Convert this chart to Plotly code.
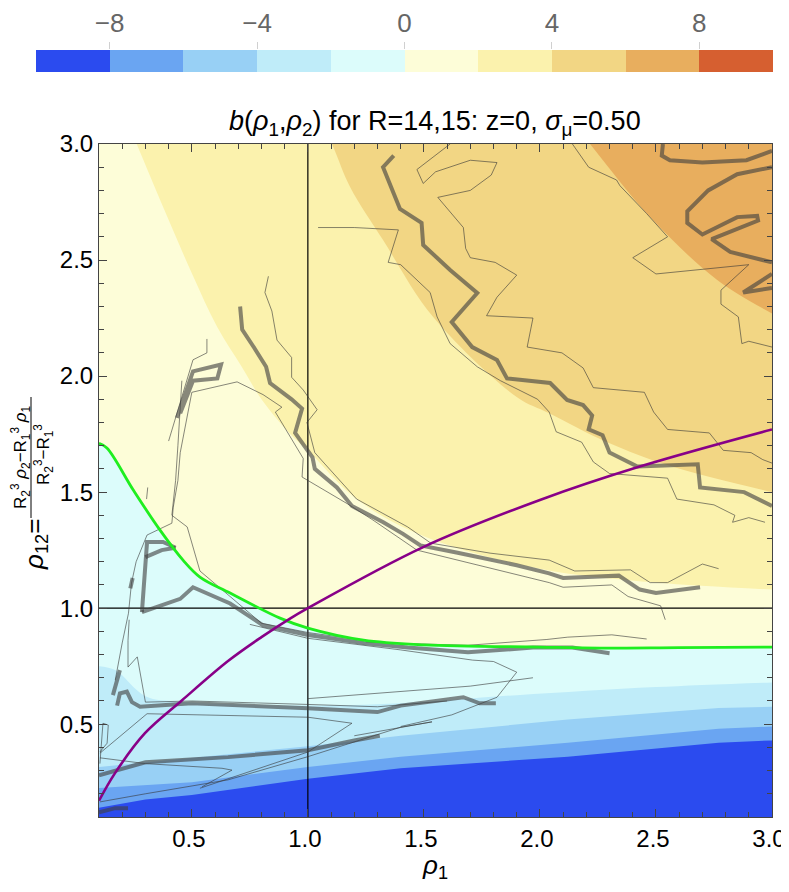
import plotly.graph_objects as go

# discrete colour levels (-10..10, step 2)
level_centers = [-9, -7, -5, -3, -1, 1, 3, 5, 7, 9]
level_colors = ["#2b4bef", "#6aa5f2", "#98d0f5", "#bfecf9", "#dcfcfb",
                "#fdfdd8", "#fbf2ad", "#f2d684", "#e8ae5e", "#d65f30"]
legend_ticks = [-8, -4, 0, 4, 8]
legend_text = ["\u22128", "\u22124", "0", "4", "8"]

# boundaries of the filled bands, rho12 as a function of rho1
b6_x = [0.1, 1.9, 2.216, 2.475, 2.764, 3.0]
b6_y = [6.0, 3.4, 3.0, 2.685, 2.414, 2.27]
b4_x = [0.1, 0.9, 1.104, 1.182, 1.324, 1.54, 1.90, 2.04, 2.29, 2.57, 3.0]
b4_y = [5.0, 3.45, 3.0, 2.815, 2.586, 2.254, 1.91, 1.84, 1.715, 1.61, 1.50]
b2_x = [0.1, 0.2, 0.2625, 0.38, 0.50, 0.61, 0.715, 0.80, 0.92, 1.0, 1.21, 1.5, 2.0, 2.5, 3.0]
b2_y = [3.4, 3.15, 3.0, 2.72, 2.443, 2.21, 2.04, 1.90, 1.755, 1.68, 1.47, 1.31, 1.17, 1.11, 1.08]
b0_x = [0.1, 0.134, 0.247, 0.363, 0.462, 0.535, 0.665, 0.88, 1.0, 1.24, 1.5, 2.0, 2.26, 2.6, 3.0]
b0_y = [1.71, 1.69, 1.51, 1.336, 1.207, 1.134, 1.065, 0.957, 0.914, 0.862, 0.842, 0.832, 0.828, 0.83, 0.832]
bm2_x = [0.1, 0.17, 0.30, 0.44, 0.7, 1.0, 1.4, 1.9, 2.5, 3.0]
bm2_y = [0.75, 0.733, 0.62, 0.597, 0.585, 0.58, 0.59, 0.625, 0.66, 0.68]
bm4_x = [0.1, 0.5, 1.0, 1.4, 2.12, 2.77, 3.0]
bm4_y = [0.315, 0.355, 0.405, 0.45, 0.52, 0.57, 0.575]
bm6_x = [0.1, 0.5, 1.0, 1.4, 2.12, 2.77, 3.0]
bm6_y = [0.225, 0.25, 0.315, 0.36, 0.42, 0.48, 0.49]
bm8_x = [0.1, 0.3, 0.5, 1.0, 1.4, 2.12, 2.77, 3.0]
bm8_y = [0.14, 0.175, 0.195, 0.265, 0.31, 0.36, 0.42, 0.43]

# purple reference curve
purple_x = [0.1, 0.169, 0.298, 0.458, 0.656, 0.80, 0.923, 1.0, 1.497, 2.0, 2.43, 3.0]
purple_y = [0.17, 0.289, 0.461, 0.603, 0.772, 0.875, 0.955, 1.0, 1.263, 1.466, 1.61, 1.77]

ref_rho = 1.0

# thick gray contour lines
thick_a_x = [0.708, 0.717, 0.77, 0.82, 0.837, 0.93, 0.975, 0.945, 1.02, 1.03, 1.125, 1.19, 1.325, 1.41, 1.485, 1.64, 1.90, 2.04, 2.10, 2.34, 2.43, 2.50, 2.69]
thick_a_y = [2.30, 2.20, 2.12, 2.04, 1.97, 1.90, 1.86, 1.755, 1.65, 1.60, 1.52, 1.44, 1.37, 1.32, 1.27, 1.24, 1.185, 1.15, 1.13, 1.14, 1.08, 1.065, 1.09]
thick_b_x = [1.37, 1.324, 1.397, 1.49, 1.497, 1.613, 1.73, 1.62, 1.708, 1.815, 1.858, 2.044, 2.117, 2.186, 2.225, 2.21, 2.27, 2.30, 2.42, 2.68, 2.69, 2.88, 3.0]
thick_b_y = [2.95, 2.90, 2.72, 2.66, 2.565, 2.457, 2.358, 2.233, 2.125, 2.069, 1.99, 1.97, 1.897, 1.875, 1.83, 1.77, 1.745, 1.67, 1.61, 1.62, 1.52, 1.50, 1.44]
thick_c_x = [2.53, 2.525, 2.56, 2.70, 2.89, 3.0]
thick_c_y = [3.0, 2.95, 2.93, 2.92, 2.93, 2.97]
thick_d_x = [3.0, 2.85, 2.725, 2.635, 2.635, 2.70, 2.85, 2.936, 2.94, 2.74, 2.82, 3.0]
thick_d_y = [2.90, 2.87, 2.80, 2.71, 2.66, 2.61, 2.685, 2.69, 2.67, 2.59, 2.535, 2.49]
thick_e_x = [3.0, 2.876, 3.0]
thick_e_y = [2.44, 2.36, 2.38]
thick_f_x = [0.436, 0.47, 0.505, 0.626, 0.61, 0.505, 0.45]
thick_f_y = [1.82, 1.92, 2.02, 2.05, 1.99, 1.98, 1.84]
thick_g_x = [0.285, 0.295, 0.307, 0.376, 0.43]
thick_g_y = [0.983, 1.13, 1.285, 1.285, 1.26]
thick_h_x = [0.30, 0.37, 0.43]
thick_h_y = [1.22, 1.25, 1.26]
thick_i_x = [0.235, 0.245]
thick_i_y = [1.085, 1.13]
thick_j_x = [0.285, 0.45, 0.505, 0.665, 0.807, 1.0, 1.24, 1.43, 1.69, 1.97, 2.14, 2.30]
thick_j_y = [0.983, 1.04, 1.09, 1.02, 0.926, 0.884, 0.85, 0.83, 0.81, 0.83, 0.83, 0.806]
thick_k_x = [0.16, 0.19]
thick_k_y = [0.625, 0.733]
thick_l_x = [0.178, 0.19, 0.22, 0.242, 0.277, 0.50, 1.0, 1.20, 1.30, 1.40, 1.527, 1.67, 1.74, 1.81]
thick_l_y = [0.58, 0.633, 0.64, 0.595, 0.575, 0.59, 0.569, 0.56, 0.552, 0.58, 0.595, 0.616, 0.59, 0.59]
thick_m_x = [0.1, 0.30, 0.656, 1.0, 1.20, 1.31]
thick_m_y = [0.28, 0.336, 0.358, 0.388, 0.43, 0.45]
thick_n_x = [0.1, 0.17, 0.225]
thick_n_y = [0.12, 0.138, 0.138]

# thin gray contour lines
thin_a_x = [0.83, 0.815, 0.845, 0.867, 0.93, 0.93, 0.98, 1.04, 0.996, 1.03, 1.07, 1.21, 1.32, 1.43, 1.53, 1.785, 2.04, 2.15, 2.39, 2.475, 2.55, 2.70, 2.77]
thin_a_y = [2.43, 2.36, 2.28, 2.155, 2.08, 1.995, 1.94, 1.855, 1.80, 1.67, 1.625, 1.47, 1.41, 1.35, 1.28, 1.237, 1.207, 1.16, 1.165, 1.11, 1.11, 1.19, 1.17]
thin_b_x = [0.50, 0.695, 0.807, 0.888, 0.86, 0.93, 0.98, 0.975, 1.17, 1.28, 1.47, 2.04, 2.10, 2.31, 2.38, 2.52, 2.54]
thin_b_y = [1.93, 1.975, 1.92, 1.866, 1.845, 1.73, 1.645, 1.565, 1.45, 1.38, 1.25, 1.11, 1.09, 1.10, 1.05, 1.01, 0.95]
thin_c_x = [1.044, 1.20, 1.39, 1.346, 1.40, 1.527, 1.557, 1.613, 1.73, 1.83, 1.99, 2.04, 2.07, 2.18, 2.23, 2.30, 2.55, 2.59, 2.75, 2.84, 2.83, 2.90, 2.97]
thin_c_y = [2.64, 2.64, 2.63, 2.49, 2.48, 2.36, 2.255, 2.14, 2.04, 1.98, 1.90, 1.845, 1.76, 1.715, 1.63, 1.58, 1.56, 1.47, 1.445, 1.40, 1.37, 1.39, 1.37]
thin_d_x = [1.613, 1.47, 1.497, 1.55, 1.70, 1.815, 1.79, 1.70, 1.56, 1.67, 1.68, 1.70, 1.807, 1.90, 1.815, 1.77, 1.97, 1.945, 2.095, 2.186, 2.23, 2.45, 2.49, 2.55, 2.73, 2.79, 2.91, 2.96, 3.0]
thin_d_y = [3.0, 2.89, 2.83, 2.88, 2.93, 2.92, 2.866, 2.80, 2.77, 2.64, 2.55, 2.51, 2.49, 2.435, 2.34, 2.26, 2.25, 2.125, 2.10, 2.035, 1.95, 1.93, 1.845, 1.77, 1.755, 1.68, 1.67, 1.64, 1.625]
thin_e_x = [2.14, 2.21, 2.33, 2.345, 2.46, 2.55, 2.40, 2.50, 2.90, 2.78, 2.78, 2.855, 2.87, 2.90, 3.0]
thin_e_y = [3.0, 2.90, 2.845, 2.82, 2.70, 2.60, 2.51, 2.44, 2.48, 2.37, 2.31, 2.255, 2.14, 2.15, 2.125]
thin_f_x = [0.565, 0.565, 0.505, 0.40]
thin_f_y = [2.16, 2.10, 2.07, 1.72]
thin_g_x = [0.50, 0.485, 0.47, 0.45, 0.44, 0.42, 0.414, 0.307, 0.26, 0.24, 0.227, 0.20, 0.17]
thin_g_y = [1.93, 1.853, 1.78, 1.67, 1.55, 1.435, 1.366, 1.315, 1.20, 1.108, 0.978, 0.85, 0.69]
thin_h_x = [0.457, 0.45, 0.44, 0.43, 0.414, 0.48, 0.535, 0.665, 0.80, 1.0, 1.25]
thin_h_y = [1.98, 1.85, 1.70, 1.55, 1.40, 1.35, 1.16, 1.05, 0.935, 0.895, 0.86]
thin_i_x = [0.23, 0.225, 0.225, 0.265, 0.30, 0.50, 1.0, 1.30, 1.60]
thin_i_y = [0.95, 0.86, 0.746, 0.79, 0.595, 0.60, 0.585, 0.575, 0.60]
thin_j_x = [0.104, 0.307, 1.0, 1.19, 1.0, 0.535]
thin_j_y = [0.375, 0.545, 0.53, 0.504, 0.38, 0.224]
thin_k_x = [0.104, 0.30, 0.63, 0.673, 0.544]
thin_k_y = [0.355, 0.33, 0.31, 0.302, 0.23]
thin_l_x = [1.25, 1.40, 1.69, 2.03, 2.12, 2.31, 2.46]
thin_l_y = [0.855, 0.848, 0.84, 0.865, 0.875, 0.885, 0.867]
thin_m_x = [0.75, 1.0, 1.40, 1.71, 1.80, 1.90, 1.815, 1.62, 1.40]
thin_m_y = [0.93, 0.87, 0.82, 0.776, 0.77, 0.724, 0.616, 0.54, 0.49]
thin_n_x = [1.0, 1.40, 1.70, 1.97]
thin_n_y = [0.61, 0.64, 0.664, 0.70]
thin_o_x = [1.20, 1.535]
thin_o_y = [0.45, 0.51]
thin_p_x = [0.104, 0.117, 0.14, 0.135, 0.12, 0.104]
thin_p_y = [0.33, 0.504, 0.496, 0.418, 0.40, 0.38]
thin_q_x = [0.104, 0.30, 0.656, 1.0, 1.40, 1.535]
thin_q_y = [0.165, 0.20, 0.26, 0.36, 0.487, 0.51]
thin_s_x = [0.305, 0.31]
thin_s_y = [1.47, 1.52]

# the page puts the figure 8 px in from the window corner
OFF = 8
W, H = 789 - OFF, 892 - 2 * OFF
FONT = "Liberation Sans"


def px(x):
    return (x - OFF) / W


def py(y):
    return 1 - (y - OFF) / H


fig = go.Figure()

# filled bands, painted from the highest level down
bands = [
    (b6_x, b6_y, level_colors[7], "spline"),
    (b4_x, b4_y, level_colors[6], "spline"),
    (b2_x, b2_y, level_colors[5], "spline"),
    (b0_x, b0_y, level_colors[4], "spline"),
    (bm2_x, bm2_y, level_colors[3], "spline"),
    (bm4_x, bm4_y, level_colors[2], "linear"),
    (bm6_x, bm6_y, level_colors[1], "linear"),
    (bm8_x, bm8_y, level_colors[0], "linear"),
]
for bx, by, col, shape in bands:
    fig.add_trace(go.Scatter(x=bx, y=by, mode="lines", fill="tozeroy",
                             fillcolor=col, line=dict(width=0, shape=shape),
                             hoverinfo="skip", showlegend=False))

thin_lines = [(thin_a_x, thin_a_y), (thin_b_x, thin_b_y), (thin_c_x, thin_c_y),
              (thin_d_x, thin_d_y), (thin_e_x, thin_e_y), (thin_f_x, thin_f_y),
              (thin_g_x, thin_g_y), (thin_h_x, thin_h_y), (thin_i_x, thin_i_y),
              (thin_j_x, thin_j_y), (thin_k_x, thin_k_y), (thin_l_x, thin_l_y),
              (thin_m_x, thin_m_y), (thin_n_x, thin_n_y), (thin_o_x, thin_o_y),
              (thin_p_x, thin_p_y), (thin_q_x, thin_q_y), (thin_s_x, thin_s_y)]
thick_lines = [(thick_a_x, thick_a_y), (thick_b_x, thick_b_y), (thick_c_x, thick_c_y),
               (thick_d_x, thick_d_y), (thick_e_x, thick_e_y), (thick_f_x, thick_f_y),
               (thick_g_x, thick_g_y), (thick_h_x, thick_h_y), (thick_i_x, thick_i_y),
               (thick_j_x, thick_j_y), (thick_k_x, thick_k_y), (thick_l_x, thick_l_y),
               (thick_m_x, thick_m_y), (thick_n_x, thick_n_y)]

# reference lines rho = 1
fig.add_trace(go.Scatter(x=[ref_rho, ref_rho], y=[0.1, 3.0], mode="lines",
                         line=dict(color="black", width=1.2), hoverinfo="skip", showlegend=False))
fig.add_trace(go.Scatter(x=[0.1, 3.0], y=[ref_rho, ref_rho], mode="lines",
                         line=dict(color="black", width=1.2), hoverinfo="skip", showlegend=False))

for lx, ly in thin_lines:
    fig.add_trace(go.Scatter(x=lx, y=ly, mode="lines",
                             line=dict(color="rgba(55,55,55,0.6)", width=1),
                             hoverinfo="skip", showlegend=False))
for lx, ly in thick_lines:
    fig.add_trace(go.Scatter(x=lx, y=ly, mode="lines",
                             line=dict(color="rgba(65,65,65,0.62)", width=4),
                             hoverinfo="skip", showlegend=False))

fig.add_trace(go.Scatter(x=b0_x, y=b0_y, mode="lines",
                         line=dict(color="#1fee1f", width=2.8, shape="spline"),
                         hoverinfo="skip", showlegend=False))
fig.add_trace(go.Scatter(x=purple_x, y=purple_y, mode="lines",
                         line=dict(color="#880088", width=2.6, shape="spline"),
                         hoverinfo="skip", showlegend=False))

# discrete legend bar on top
fig.add_trace(go.Bar(x=level_centers, y=[1] * len(level_centers), width=2,
                     marker=dict(color=level_colors, line=dict(width=0)),
                     xaxis="x2", yaxis="y2", hoverinfo="skip", showlegend=False))

axis_common = dict(
    range=[0.1, 3.0], showgrid=False, zeroline=False, automargin=False,
    showline=True, linecolor="#444", linewidth=1, mirror="ticks",
    ticks="inside", ticklen=8, tickcolor="#444",
    tickfont=dict(size=24, color="black", family=FONT),
    minor=dict(dtick=0.1, ticks="inside", ticklen=5, tickcolor="#444"),
    tickvals=[0.5, 1.0, 1.5, 2.0, 2.5, 3.0],
    ticktext=["0.5", "1.0", "1.5", "2.0", "2.5", "3.0"],
)

fig.update_layout(
    width=W, height=H,
    margin=dict(l=0, r=0, t=0, b=0, pad=0, autoexpand=False),
    paper_bgcolor="white",
    plot_bgcolor=level_colors[8],
    font=dict(family=FONT, color="black"),
    xaxis=dict(domain=[px(99), px(772)], anchor="y", ticklabelshift=-3, **axis_common),
    yaxis=dict(domain=[py(817), py(144)], anchor="x", **axis_common),
    xaxis2=dict(domain=[px(36), px(773)], anchor="y2", range=[-10, 10],
                side="top", tickvals=legend_ticks, ticktext=legend_text,
                ticks="outside", ticklen=7, tickcolor="#d0d0d0", automargin=False,
                tickfont=dict(size=26, color="#666", family=FONT),
                showgrid=False, zeroline=False, showline=False),
    yaxis2=dict(domain=[py(72), py(50)], anchor="x2", range=[0, 1],
                visible=False, automargin=False),
    bargap=0,
)

annotations = [
    dict(text="<i>b</i>(<i>\u03c1</i><sub>1</sub>,<i>\u03c1</i><sub>2</sub>) for R=14,15: z=0, "
              "<i>\u03c3</i><sub>\u03bc</sub>=0.50",
         x=px(435), y=py(123), font=dict(size=27)),
    dict(text="<i>\u03c1</i><sub>1</sub>", x=px(435), y=py(866), font=dict(size=26)),
    dict(text="<i>\u03c1</i><sub>12</sub>=", x=px(35), y=py(545), textangle=-90,
         font=dict(size=26)),
    dict(text="R<sub>2</sub><sup>3</sup> <i>\u03c1</i><sub>2</sub>\u2212R<sub>1</sub><sup>3</sup> <i>\u03c1</i><sub>1</sub>",
         x=px(20), y=py(457), textangle=-90, font=dict(size=17)),
    dict(text="R<sub>2</sub><sup>3</sup>\u2212R<sub>1</sub><sup>3</sup>",
         x=px(43), y=py(455), textangle=-90, font=dict(size=17)),
]
for a in annotations:
    fig.add_annotation(xref="paper", yref="paper", showarrow=False,
                       xanchor="center", yanchor="middle", **a)

# fraction bar of the y label
fig.add_shape(type="line", xref="paper", yref="paper",
              x0=px(31), x1=px(31), y0=py(518), y1=py(397),
              line=dict(color="black", width=1))

fig.write_html("out.html")
